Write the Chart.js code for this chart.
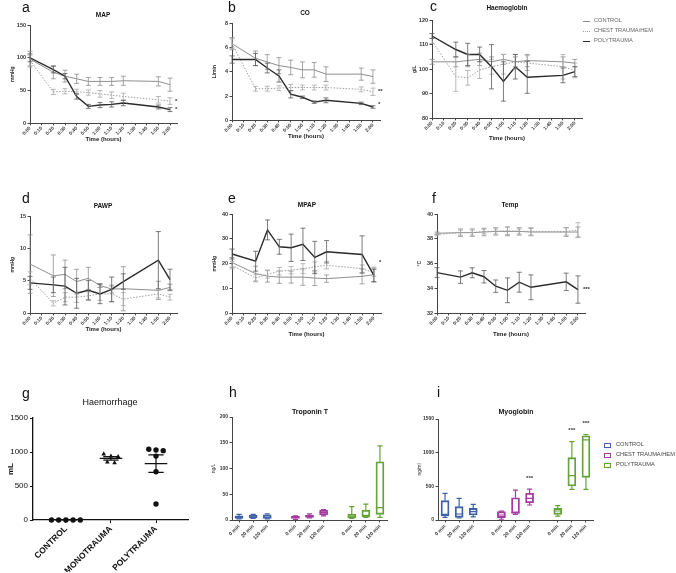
<!DOCTYPE html>
<html>
<head>
<meta charset="utf-8">
<script src="https://cdn.jsdelivr.net/npm/chart.js@4.4.1/dist/chart.umd.min.js"></script>
<style>
body{margin:0;background:#fff;width:676px;height:573px;position:relative;overflow:hidden;font-family:"Liberation Sans",Arial,sans-serif}
canvas{position:absolute}
.t{position:absolute;transform:translate(-50%,-50%);white-space:nowrap;font-weight:bold;font-size:6.5px;color:#111;will-change:transform}
.L{position:absolute;font-size:14px;line-height:1;color:#111;will-change:transform}
.lg{position:absolute;font-size:5.7px;color:#666;white-space:nowrap;line-height:1;will-change:transform}
</style>
</head>
<body>
<div class="L" style="left:22px;top:0px">a</div>
<div class="L" style="left:228px;top:0px">b</div>
<div class="L" style="left:430px;top:-1px">c</div>
<div class="L" style="left:22px;top:191px">d</div>
<div class="L" style="left:228px;top:191px">e</div>
<div class="L" style="left:432px;top:191px">f</div>
<div class="L" style="left:22px;top:386px">g</div>
<div class="L" style="left:229px;top:385px">h</div>
<div class="L" style="left:437px;top:385px">i</div>

<div class="t" style="left:103px;top:14px">MAP</div>
<div class="t" style="left:305px;top:12px">CO</div>
<div class="t" style="left:507px;top:7px">Haemoglobin</div>
<div class="t" style="left:103px;top:205px">PAWP</div>
<div class="t" style="left:307px;top:204px">MPAP</div>
<div class="t" style="left:510px;top:204px">Temp</div>
<div class="t" style="left:110px;top:402px;font-weight:normal;font-size:9px;color:#111">Haemorrhage</div>
<div class="t" style="left:310px;top:411px;font-size:7px">Troponin T</div>
<div class="t" style="left:516px;top:411px;font-size:7px">Myoglobin</div>

<div id="legC"></div>
<div id="legI"></div>

<script>
// ---- time axis ----
const tickTimes = ['0:00','0:10','0:20','0:30','0:40','0:50','1:00','1:10','1:20','1:30','1:40','1:50','2:00'];
const sampleTimes = ['0:00','0:20','0:30','0:40','0:50','1:00','1:10','1:20','1:50','2:00'];
const groupNames = ['CONTROL', 'CHEST TRAUMA/HEM', 'POLYTRAUMA'];

// ---- MAP (mmHg) ----
const mapControl = [98, 78, 72, 68, 64, 64, 64, 65, 64, 59];
const mapControlSem = [12, 10, 9, 7, 6, 6, 6, 7, 7, 10];
const mapChest = [96, 48, 49, 48, 47, 45, 43, 41, 36, 34];
const mapChestSem = [8, 4, 4, 4, 4, 5, 5, 5, 5, 5];
const mapPoly = [100, 82, 72, 41, 26, 28, 29, 31, 25, 21];
const mapPolySem = [6, 5, 4, 4, 3, 4, 4, 4, 3, 3];

// ---- CO (L/min) ----
const coControl = [6.3, 5.1, 4.8, 4.5, 4.35, 4.15, 4.15, 3.8, 3.8, 3.6];
const coControlSem = [0.5, 0.6, 0.6, 0.65, 0.6, 0.65, 0.6, 0.6, 0.5, 0.55];
const coChest = [6.3, 2.6, 2.6, 2.65, 2.7, 2.7, 2.7, 2.7, 2.55, 2.35];
const coChestSem = [0.4, 0.2, 0.2, 0.2, 0.25, 0.2, 0.2, 0.2, 0.2, 0.3];
const coPoly = [5.0, 5.0, 4.3, 3.65, 2.15, 1.9, 1.5, 1.65, 1.4, 1.1];
const coPolySem = [0.3, 0.5, 0.4, 0.5, 0.3, 0.1, 0.1, 0.2, 0.1, 0.1];

// ---- Haemoglobin (g/L) ----
const hbControl = [103, 103, 103.5, 104, 103, 104, 103, 103.5, 103, 102.5];
const hbControlSem = [1, 2, 2.5, 2.5, 2, 2, 2, 2.5, 2, 1.5];
const hbChest = [111.5, 97, 96.5, 99.7, 101, 102, 103, 102.5, 101, 99.5];
const hbChestSem = [1, 6, 3, 3.5, 3, 4, 3, 3, 5, 3];
const hbPoly = [113.5, 108, 106, 106, 101, 95, 101, 96.7, 97.5, 99];
const hbPolySem = [1, 3, 4.5, 3, 9, 8, 5, 6.5, 3, 2];

// ---- PAWP (mmHg) ----
const pawpControl = [7.6, 5.8, 6.0, 4.9, 5.4, 4.3, 3.75, 3.8, 3.55, 4.0];
const pawpControlSem = [4.5, 3.2, 2.2, 1.9, 1.7, 0.3, 0.6, 3.4, 1.4, 0.5];
const pawpChest = [5.4, 1.55, 2.5, 2.5, 2.7, 3.0, 3.0, 2.2, 3.0, 2.5];
const pawpChestSem = [1, 0.4, 0.7, 0.8, 0.6, 1.0, 1.2, 1.0, 0.6, 0.45];
const pawpPoly = [4.7, 4.4, 4.2, 3.1, 3.55, 3.0, 3.7, 4.9, 8.2, 5.2];
const pawpPolySem = [1, 1.2, 2.9, 2.3, 1.5, 1.5, 1.9, 1.2, 4.4, 1.6];

// ---- MPAP (mmHg) ----
const mpapControl = [20.5, 16, 15, 14.6, 14.6, 14.6, 14.2, 14, 14.9, 15.6];
const mpapControlSem = [2, 3, 2.4, 2.5, 2.4, 3.3, 3, 1.5, 3, 3];
const mpapChest = [19.4, 14.2, 15.7, 17, 17.4, 18, 18.7, 19.4, 18, 16.4];
const mpapChestSem = [1.5, 1.5, 1.5, 1.5, 1.5, 2, 2, 1.5, 1.5, 1.5];
const mpapPoly = [23.9, 21, 33.6, 26.8, 26.4, 27.8, 22.5, 24.8, 23.7, 15.3];
const mpapPolySem = [2, 4, 4, 3, 5.5, 6.5, 6.5, 4.5, 7.5, 2.5];

// ---- Temp (°C) ----
const tempControl = [38.45, 38.5, 38.5, 38.55, 38.6, 38.6, 38.6, 38.55, 38.55, 38.55];
const tempControlSem = [0.1, 0.3, 0.3, 0.3, 0.3, 0.35, 0.3, 0.3, 0.35, 0.4];
const tempChest = [38.35, 38.5, 38.5, 38.6, 38.6, 38.65, 38.6, 38.6, 38.6, 38.7];
const tempChestSem = [0.1, 0.2, 0.2, 0.2, 0.2, 0.3, 0.2, 0.3, 0.3, 0.6];
const tempPoly = [35.28, 34.92, 35.27, 34.95, 34.19, 33.86, 34.51, 34.1, 34.54, 33.92];
const tempPolySem = [0.4, 0.5, 0.4, 0.5, 0.5, 1.0, 0.8, 1.0, 0.7, 1.1];

// ---- Haemorrhage (mL) ----
const hemCategories = ['CONTROL', 'MONOTRAUMA', 'POLYTRAUMA'];
const hemControl = [0, 0, 0, 0, 0];
const hemMono = [970, 940, 930, 850, 840];
const hemPoly = [1040, 1030, 1020, 940, 710, 236];

// ---- box plots: [min, q1, median, q3, max] per time point ----
const boxTimes = ['0 min', '20 min', '120 min'];
const tropControl = [[2, 3, 5, 8, 11], [3, 4, 6, 9, 11], [2, 3, 5, 10, 12]];
const tropChest = [[1, 3, 5, 7, 8], [4, 5, 7, 9, 12], [8, 10, 15, 19, 20]];
const tropPoly = [[3, 4, 6, 11, 26], [5, 6, 9, 19, 31], [5, 11, 24, 113, 144]];
const myoControl = [[40, 60, 85, 287, 396], [30, 40, 89, 198, 322], [45, 74, 124, 173, 233]];
const myoChest = [[11, 35, 74, 124, 131], [84, 99, 114, 331, 445], [223, 257, 322, 396, 460]];
const myoPoly = [[59, 84, 134, 173, 213], [456, 505, 658, 926, 1163], [456, 634, 1190, 1250, 1270]];

const toMin = s => { const [h, m] = s.split(':').map(Number); return h * 60 + m; };
const sampleMinutes = sampleTimes.map(toMin);
const tickMinutes = tickTimes.map(toMin);

Chart.defaults.font.family = '"Liberation Sans", Arial, sans-serif';
Chart.defaults.color = '#333';
Chart.defaults.animation = false;
Chart.defaults.plugins.legend.display = false;
Chart.defaults.plugins.tooltip.enabled = false;

const seriesStyle = [
  { color: '#8e8e8e', width: 1, dash: [], err: '#8e8e8e' },
  { color: '#a0a0a0', width: 1, dash: [1.5, 1.5], err: '#a8a8a8' },
  { color: '#2a2a2a', width: 1.4, dash: [], err: '#5a5a5a' }
];
const boxColors = ['#3d63a6', '#a43a9f', '#66a33a'];
const plain = v => String(v);

function makeCanvas(left, top, w, h) {
  const c = document.createElement('canvas');
  c.width = Math.round(w);
  c.height = Math.round(h);
  c.style.left = left + 'px';
  c.style.top = top + 'px';
  document.body.appendChild(c);
  return c;
}

// mean +/- SEM bars on line charts
const errorBars = {
  id: 'errorBars',
  afterDatasetsDraw(chart) {
    const { ctx } = chart;
    const ys = chart.scales.y;
    chart.data.datasets.forEach((ds, di) => {
      if (!ds.sem) return;
      const meta = chart.getDatasetMeta(di);
      ctx.save();
      ctx.strokeStyle = ds.errColor;
      ctx.lineWidth = 0.8;
      meta.data.forEach((pt, i) => {
        const v = ds.data[i].y, e = ds.sem[i];
        const top = ys.getPixelForValue(v + e), bot = ys.getPixelForValue(v - e);
        ctx.beginPath();
        ctx.moveTo(pt.x, top); ctx.lineTo(pt.x, bot);
        ctx.moveTo(pt.x - 2.5, top); ctx.lineTo(pt.x + 2.5, top);
        ctx.moveTo(pt.x - 2.5, bot); ctx.lineTo(pt.x + 2.5, bot);
        ctx.stroke();
      });
      ctx.restore();
    });
    // significance marks after the last point
    chart.data.datasets.forEach(ds => {
      if (!ds.star) return;
      const last = ds.data[ds.data.length - 1];
      const x = chart.scales.x.getPixelForValue(last.x) + 5;
      const y = ys.getPixelForValue(ds.starAt != null ? ds.starAt : last.y);
      ctx.save();
      ctx.fillStyle = '#333';
      ctx.font = 'bold 6px "Liberation Sans", Arial';
      ctx.textBaseline = 'middle';
      ctx.fillText(ds.star, x, y);
      ctx.restore();
    });
  }
};

function linePanel(geo, yRange, unit, series, stars) {
  const xMax = 126, yW = 30, padT = 6, padR = 5;
  const xH = geo.gap + 3.6;
  const plotW = Math.round((geo.x120 - geo.x0) * xMax / 120);
  const plotH = geo.y1 - geo.y0;
  const cv = makeCanvas(geo.x0 - yW, geo.y0 - padT, yW + plotW + padR, padT + plotH + xH);
  new Chart(cv, {
    type: 'line',
    data: {
      datasets: series.map((s, k) => ({
        data: sampleMinutes.map((m, i) => ({ x: m, y: s[0][i] })),
        sem: s[1],
        errColor: seriesStyle[k].err,
        star: stars[k] ? stars[k][0] : null,
        starAt: stars[k] ? stars[k][1] : null,
        borderColor: seriesStyle[k].color,
        borderWidth: seriesStyle[k].width,
        borderDash: seriesStyle[k].dash,
        pointRadius: 0,
        tension: 0,
        fill: false,
        order: 2 - k
      }))
    },
    options: {
      responsive: false,
      layout: { padding: { top: padT, right: padR, left: 0, bottom: 0 } },
      scales: {
        x: {
          type: 'linear', min: 0, max: xMax,
          afterBuildTicks(s) { s.ticks = tickMinutes.map(v => ({ value: v })); },
          ticks: {
            autoSkip: false, minRotation: 45, maxRotation: 45, padding: 0,
            font: { size: 4.8, weight: 'bold' }, color: '#333',
            callback: (v, i) => tickTimes[i]
          },
          grid: { drawOnChartArea: false, tickLength: 2, color: '#444' },
          border: { color: '#444', width: 1 },
          title: { display: true, text: 'Time (hours)', font: { size: 6, weight: 'bold' }, color: '#222', padding: 0 },
          afterFit(s) { s.height = xH; s.paddingLeft = 0; s.paddingRight = 0; }
        },
        y: {
          min: yRange[0], max: yRange[1],
          ticks: { stepSize: yRange[2], font: { size: 5.5, weight: 'bold' }, color: '#333', padding: 1.5, callback: plain },
          grid: { drawOnChartArea: false, tickLength: 2.5, color: '#444' },
          border: { color: '#444', width: 1 },
          title: { display: true, text: unit, font: { size: 5, weight: 'bold' }, color: '#333', padding: { top: 10, bottom: 0 } },
          afterFit(s) { s.width = yW; s.paddingTop = 0; s.paddingBottom = 0; }
        }
      }
    },
    plugins: [errorBars]
  });
}

linePanel({ x0: 30, x120: 170, y0: 25, y1: 123, gap: 16 }, [0, 150, 50], 'mmHg',
  [[mapControl, mapControlSem], [mapChest, mapChestSem], [mapPoly, mapPolySem]],
  [null, ['*'], ['*']]);
linePanel({ x0: 232, x120: 373, y0: 23, y1: 120, gap: 16 }, [0, 8, 2], 'L/min',
  [[coControl, coControlSem], [coChest, coChestSem], [coPoly, coPolySem]],
  [null, ['**'], ['*', 1.3]]);
linePanel({ x0: 432, x120: 575, y0: 20, y1: 118, gap: 20 }, [80, 120, 10], 'g/L',
  [[hbControl, hbControlSem], [hbChest, hbChestSem], [hbPoly, hbPolySem]],
  [null, null, null]);
linePanel({ x0: 30, x120: 170, y0: 216, y1: 313, gap: 16 }, [0, 15, 5], 'mmHg',
  [[pawpControl, pawpControlSem], [pawpChest, pawpChestSem], [pawpPoly, pawpPolySem]],
  [null, null, null]);
linePanel({ x0: 232, x120: 374, y0: 214, y1: 313, gap: 21 }, [0, 40, 10], 'mmHg',
  [[mpapControl, mpapControlSem], [mpapChest, mpapChestSem], [mpapPoly, mpapPolySem]],
  [null, ['*', 20.5], null]);
linePanel({ x0: 437, x120: 578, y0: 214, y1: 313, gap: 21 }, [32, 40, 2], '°C',
  [[tempControl, tempControlSem], [tempChest, tempChestSem], [tempPoly, tempPolySem]],
  [null, null, ['***']]);

// ---- legend for panel c ----
const legC = document.getElementById('legC');
groupNames.forEach((name, k) => {
  const y = 21 + k * 10;
  const st = seriesStyle[k];
  const line = document.createElement('div');
  line.style.cssText = `position:absolute;left:583px;top:${y}px;width:7px;height:0;border-top:${st.width}px ${st.dash.length ? 'dotted' : 'solid'} ${st.color}`;
  legC.appendChild(line);
  const txt = document.createElement('div');
  txt.className = 'lg';
  txt.style.left = '594px';
  txt.style.top = (y - 3) + 'px';
  txt.textContent = name;
  legC.appendChild(txt);
});

// ---- panel g: Haemorrhage scatter with mean +/- SEM ----
function beeswarm(values, gap) {
  const order = values.map((v, i) => i).sort((a, b) => values[b] - values[a]);
  const off = new Array(values.length).fill(0);
  let row = [];
  const flush = () => { row.forEach((idx, k) => { off[idx] = (k - (row.length - 1) / 2) * gap; }); row = []; };
  order.forEach(idx => {
    if (row.length && values[row[0]] - values[idx] > 75) flush();
    row.push(idx);
  });
  flush();
  return off;
}

const meanSem = {
  id: 'meanSem',
  afterDatasetsDraw(chart) {
    const { ctx } = chart;
    const xs = chart.scales.x, ys = chart.scales.y;
    chart.data.datasets.forEach((ds, gi) => {
      const v = ds.raw;
      const n = v.length;
      const mean = v.reduce((a, b) => a + b, 0) / n;
      const sd = Math.sqrt(v.reduce((a, b) => a + (b - mean) ** 2, 0) / (n - 1));
      const sem = sd / Math.sqrt(n);
      const ym = ys.getPixelForValue(mean);
      ctx.save();
      ctx.strokeStyle = '#111';
      ctx.lineWidth = 1.2;
      ctx.beginPath();
      ctx.moveTo(xs.getPixelForValue(gi - 0.25), ym);
      ctx.lineTo(xs.getPixelForValue(gi + 0.25), ym);
      if (sem > 0) {
        const yt = ys.getPixelForValue(mean + sem), yb = ys.getPixelForValue(mean - sem);
        const cx = xs.getPixelForValue(gi), cl = xs.getPixelForValue(gi - 0.17), cr = xs.getPixelForValue(gi + 0.17);
        ctx.moveTo(cx, yt); ctx.lineTo(cx, yb);
        ctx.moveTo(cl, yt); ctx.lineTo(cr, yt);
        ctx.moveTo(cl, yb); ctx.lineTo(cr, yb);
      }
      ctx.stroke();
      ctx.restore();
    });
  }
};

(function () {
  const x0 = 33, x1 = 188, y0 = 418, y1 = 520, yW = 33, xH = 52, padT = 6, padR = 4;
  const cv = makeCanvas(x0 - yW, y0 - padT, yW + (x1 - x0) + padR, padT + (y1 - y0) + xH);
  const groups = [[hemControl, 'circle'], [hemMono, 'triangle'], [hemPoly, 'circle']];
  new Chart(cv, {
    type: 'scatter',
    data: {
      datasets: groups.map(([vals, shape], gi) => {
        const off = beeswarm(vals, 0.16);
        return {
          raw: vals,
          data: vals.map((v, i) => ({ x: gi + off[i], y: v })),
          pointStyle: shape,
          pointRadius: 2.7,
          backgroundColor: '#111',
          borderColor: '#111',
          borderWidth: 0,
          clip: false
        };
      })
    },
    options: {
      responsive: false,
      layout: { padding: { top: padT, right: padR, left: 0, bottom: 0 } },
      scales: {
        x: {
          type: 'linear', min: -0.73, max: 2.71,
          afterBuildTicks(s) { s.ticks = hemCategories.map((c, i) => ({ value: i })); },
          ticks: {
            autoSkip: false, minRotation: 45, maxRotation: 45, padding: 1,
            font: { size: 8.5, weight: 'bold' }, color: '#111',
            callback: (v, i) => hemCategories[i]
          },
          grid: { drawOnChartArea: false, tickLength: 3, color: '#111' },
          border: { color: '#111', width: 1.3 },
          afterFit(s) { s.height = xH; s.paddingLeft = 0; s.paddingRight = 0; }
        },
        y: {
          min: 0, max: 1500,
          ticks: { stepSize: 500, font: { size: 8 }, color: '#111', padding: 2, callback: plain },
          grid: { drawOnChartArea: false, tickLength: 3, color: '#111' },
          border: { color: '#111', width: 1.3 },
          title: { display: true, text: 'mL', font: { size: 8, weight: 'bold' }, color: '#111', padding: { top: 6, bottom: 0 } },
          afterFit(s) { s.width = yW; s.paddingTop = 0; s.paddingBottom = 0; }
        }
      }
    },
    plugins: [meanSem]
  });
})();

// ---- panels h and i: box and whisker plots ----
const whiskers = {
  id: 'whiskers',
  afterDatasetsDraw(chart) {
    const { ctx } = chart;
    const ys = chart.scales.y;
    chart.data.datasets.forEach((ds, di) => {
      const meta = chart.getDatasetMeta(di);
      ctx.save();
      ctx.strokeStyle = ds.borderColor;
      ctx.lineWidth = 1.2;
      meta.data.forEach((bar, i) => {
        const st = ds.stats[i];
        if (!st) return;
        const [mn, q1, md, q3, mx] = st.map(v => ys.getPixelForValue(v));
        const half = bar.width / 2, cap = bar.width * 0.32;
        ctx.beginPath();
        ctx.moveTo(bar.x - half, md); ctx.lineTo(bar.x + half, md);
        ctx.moveTo(bar.x, q3); ctx.lineTo(bar.x, mx);
        ctx.moveTo(bar.x - cap, mx); ctx.lineTo(bar.x + cap, mx);
        ctx.moveTo(bar.x, q1); ctx.lineTo(bar.x, mn);
        ctx.moveTo(bar.x - cap, mn); ctx.lineTo(bar.x + cap, mn);
        ctx.stroke();
        if (ds.stars && ds.stars[i]) {
          ctx.fillStyle = '#333';
          ctx.font = 'bold 6px "Liberation Sans", Arial';
          ctx.textAlign = 'center';
          ctx.textBaseline = 'middle';
          ctx.fillText('***', bar.x, mx - 11);
        }
      });
      ctx.restore();
    });
  }
};

function boxPanel(geo, yRange, unit, groups, starred) {
  const yW = 30, xH = 22, padT = 6, padR = 4;
  const labels = [];
  groups.forEach((g, gi) => { if (gi) labels.push(''); labels.push(...boxTimes); });
  const cv = makeCanvas(geo.x0 - yW, geo.y0 - padT, yW + (geo.x1 - geo.x0) + padR, padT + (geo.y1 - geo.y0) + xH);
  new Chart(cv, {
    type: 'bar',
    data: {
      labels,
      datasets: groups.map((g, gi) => {
        const stats = labels.map((_, i) => (Math.floor(i / 4) === gi && i % 4 < 3) ? g[i % 4] : null);
        return {
          stats,
          stars: labels.map((_, i) => Math.floor(i / 4) === gi && starred.some(([sg, st]) => sg === gi && st === i % 4)),
          data: stats.map(s => s ? [s[1], s[3]] : null),
          borderColor: boxColors[gi],
          backgroundColor: 'rgba(255,255,255,0)',
          borderWidth: 1.2,
          borderSkipped: false,
          barThickness: 8,
          grouped: false
        };
      })
    },
    options: {
      responsive: false,
      layout: { padding: { top: padT, right: padR, left: 0, bottom: 0 } },
      scales: {
        x: {
          offset: true,
          ticks: { autoSkip: false, minRotation: 45, maxRotation: 45, padding: 1, font: { size: 5, weight: 'bold' }, color: '#333' },
          grid: { offset: false, drawOnChartArea: false, tickLength: 2.5, tickColor: c => (c.index % 4 === 3 ? 'rgba(0,0,0,0)' : '#444') },
          border: { color: '#444', width: 1 },
          afterFit(s) { s.height = xH; s.paddingLeft = 0; s.paddingRight = 0; }
        },
        y: {
          min: yRange[0], max: yRange[1],
          ticks: { stepSize: yRange[2], font: { size: 5, weight: 'bold' }, color: '#333', padding: 1.5, callback: plain },
          grid: { drawOnChartArea: false, tickLength: 2.5, color: '#444' },
          border: { color: '#444', width: 1 },
          title: { display: true, text: unit, font: { size: 5 }, color: '#333', padding: { top: 9, bottom: 0 } },
          afterFit(s) { s.width = yW; s.paddingTop = 0; s.paddingBottom = 0; }
        }
      }
    },
    plugins: [whiskers]
  });
}

boxPanel({ x0: 232, x1: 387, y0: 417, y1: 520 }, [0, 200, 50], 'ng/L', [tropControl, tropChest, tropPoly], []);
boxPanel({ x0: 438, x1: 593, y0: 419, y1: 520 }, [0, 1500, 500], 'ng/ml', [myoControl, myoChest, myoPoly], [[1, 2], [2, 1], [2, 2]]);

// ---- legend for panel i ----
const legI = document.getElementById('legI');
groupNames.forEach((name, k) => {
  const y = 445 + k * 10;
  const box = document.createElement('div');
  box.style.cssText = `position:absolute;left:604px;top:${y - 2}px;width:5px;height:2.5px;border:1.1px solid ${boxColors[k]}`;
  legI.appendChild(box);
  const txt = document.createElement('div');
  txt.className = 'lg';
  txt.style.left = '616px';
  txt.style.top = (y - 3) + 'px';
  txt.style.color = '#444';
  txt.textContent = name;
  legI.appendChild(txt);
});
</script>
</body>
</html>
